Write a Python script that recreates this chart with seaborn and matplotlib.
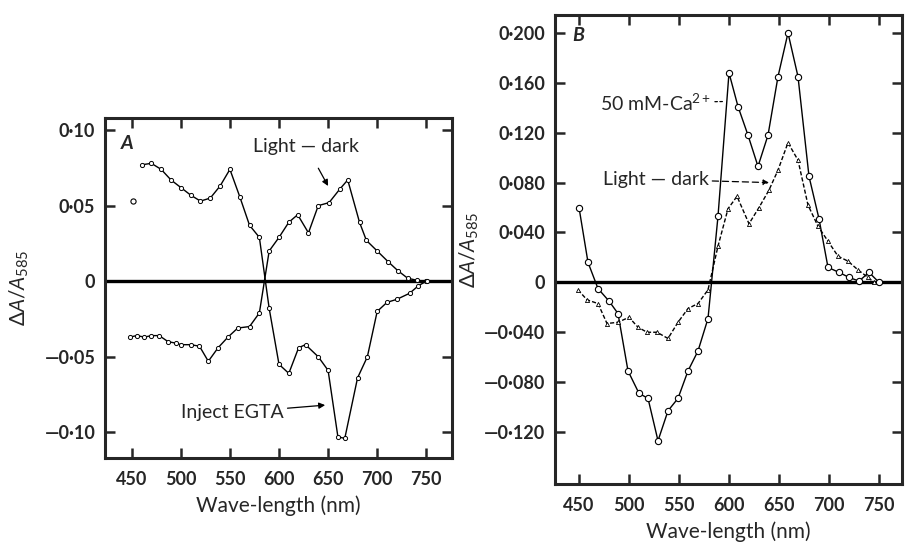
import matplotlib
matplotlib.use("Agg")
import matplotlib.pyplot as plt
import seaborn as sns

# Panel A: inject EGTA (starts high at left, dips to -0.10 near 665 nm)
a_egta_nm = [460, 470, 480, 490, 500, 510, 520, 530, 540, 550, 560, 570, 580,
             590, 600, 610, 620, 627, 640, 650, 660, 667, 680, 690, 700, 710,
             720, 733, 742, 750]
a_egta_val = [0.077, 0.078, 0.074, 0.067, 0.062, 0.057, 0.053, 0.055, 0.063,
              0.074, 0.056, 0.037, 0.029, -0.018, -0.055, -0.061, -0.044,
              -0.042, -0.050, -0.059, -0.103, -0.104, -0.064, -0.050, -0.020,
              -0.014, -0.012, -0.008, -0.003, 0.0]

# Panel A: light - dark
a_ld_nm = [448, 455, 463, 470, 478, 487, 495, 500, 510, 519, 528, 538, 548,
           558, 570, 580, 590, 600, 610, 619, 630, 640, 651, 662, 670, 682,
           689, 700, 711, 721, 731, 741, 751]
a_ld_val = [-0.037, -0.036, -0.037, -0.036, -0.036, -0.040, -0.041, -0.042,
            -0.042, -0.043, -0.053, -0.044, -0.037, -0.031, -0.030, -0.021,
            0.020, 0.029, 0.039, 0.044, 0.032, 0.050, 0.052, 0.061, 0.067,
            0.039, 0.027, 0.020, 0.013, 0.007, 0.002, 0.0005, 0.0]

# stray point printed in panel A
a_stray_nm = [451]
a_stray_val = [0.053]

# Panel B: 50 mM-Ca2+
b_ca_nm = [450, 459, 469, 480, 489, 499, 510, 519, 529, 539, 549, 559, 569,
           579, 589, 600, 609, 619, 629, 639, 649, 659, 669, 680, 690, 699,
           710, 720, 730, 740, 750]
b_ca_val = [0.060, 0.016, -0.005, -0.015, -0.025, -0.071, -0.089, -0.093,
            -0.127, -0.103, -0.093, -0.071, -0.055, -0.029, 0.053, 0.168,
            0.141, 0.118, 0.093, 0.118, 0.165, 0.200, 0.165, 0.085, 0.051,
            0.012, 0.008, 0.004, 0.001, 0.008, 0.0]

# Panel B: light - dark
b_ld_nm = [449, 458, 469, 478, 489, 500, 509, 518, 528, 539, 549, 559, 569,
           579, 589, 599, 608, 620, 630, 640, 649, 659, 669, 679, 689, 699,
           709, 719, 729, 739, 745]
b_ld_val = [-0.006, -0.014, -0.017, -0.033, -0.032, -0.028, -0.036, -0.040,
            -0.040, -0.045, -0.032, -0.021, -0.017, -0.006, 0.029, 0.059,
            0.069, 0.047, 0.060, 0.074, 0.090, 0.112, 0.098, 0.062, 0.045,
            0.033, 0.021, 0.017, 0.010, 0.004, 0.0]

x_ticks = [450, 500, 550, 600, 650, 700, 750]
a_yticks = [0.10, 0.05, 0.0, -0.05, -0.10]
a_ylabels = ["0·10", "0·05", "0", "—0·05", "—0·10"]
b_yticks = [0.200, 0.160, 0.120, 0.080, 0.040, 0.0, -0.040, -0.080, -0.120]
b_ylabels = ["0·200", "0·160", "0·120", "0·080", "0·040", "0",
             "—0·040", "—0·080", "—0·120"]

sns.set_style("ticks")
plt.rcParams["font.family"] = ["Lato", "DejaVu Sans"]
plt.rcParams["mathtext.fontset"] = "custom"
plt.rcParams["mathtext.rm"] = "Lato"
plt.rcParams["mathtext.it"] = "Lato:italic"
plt.rcParams["mathtext.bf"] = "Lato:bold"

fig = plt.figure(figsize=(9.1, 5.45), dpi=100)
axA = fig.add_axes([0.1154, 0.1596, 0.3813, 0.6239])
axB = fig.add_axes([0.6099, 0.1119, 0.3813, 0.8606])

line_kw = dict(color="black", lw=1.0, sort=False, estimator=None)

# panel A curves
sns.lineplot(x=a_egta_nm, y=a_egta_val, ax=axA, marker="o", markersize=3,
             markerfacecolor="white", markeredgecolor="black",
             markeredgewidth=0.7, **line_kw)
sns.lineplot(x=a_ld_nm, y=a_ld_val, ax=axA, marker="o", markersize=3,
             markerfacecolor="white", markeredgecolor="black",
             markeredgewidth=0.7, **line_kw)
sns.scatterplot(x=a_stray_nm, y=a_stray_val, ax=axA, s=14, marker="o",
                facecolor="white", edgecolor="black", linewidth=0.8)

# panel B curves
sns.lineplot(x=b_ca_nm, y=b_ca_val, ax=axB, marker="o", markersize=4.5,
             markerfacecolor="white", markeredgecolor="black",
             markeredgewidth=0.8, **line_kw)
sns.lineplot(x=b_ld_nm, y=b_ld_val, ax=axB, marker="^", markersize=3,
             markerfacecolor="white", markeredgecolor="black",
             markeredgewidth=0.6, linestyle=(0, (3, 1.5)), **line_kw)

for ax in (axA, axB):
    ax.axhline(0, color="black", lw=2.4, zorder=1)
    ax.set_xticks(x_ticks)
    ax.tick_params(direction="in", length=7, width=1.8, top=True, right=True,
                   labeltop=False, labelright=False, labelsize=13, pad=7)
    ax.tick_params(axis="x", pad=9)
    for s in ax.spines.values():
        s.set_linewidth(2.2)
        s.set_visible(True)
    ax.set_xlabel("Wave-length (nm)", fontsize=15, labelpad=6)
    for lab in ax.get_xticklabels() + ax.get_yticklabels():
        lab.set_fontweight("bold")

axA.set_xlim(422.8, 776.2)
axA.set_ylim(-0.117, 0.108)
axA.set_yticks(a_yticks)
axA.set_yticklabels(a_ylabels, fontweight="bold")
axA.set_ylabel(r"$\Delta A/A_{585}$", fontsize=15, labelpad=10)

axB.set_xlim(426, 773)
axB.set_ylim(-0.1617, 0.2144)
axB.set_yticks(b_yticks)
axB.set_yticklabels(b_ylabels, fontweight="bold")
axB.set_ylabel(r"$\Delta A/A_{585}$", fontsize=15, labelpad=2)

# annotations
axA.text(445, 0.091, "A", fontsize=14, style="italic", fontweight="bold",
         ha="center", va="center")
axA.annotate("Light — dark", xy=(650, 0.063), xytext=(628, 0.089),
             fontsize=14, ha="center", va="center",
             arrowprops=dict(arrowstyle="-|>", color="black", lw=0.9,
                             mutation_scale=9, shrinkA=8, shrinkB=0))
axA.annotate("Inject EGTA", xy=(647, -0.082), xytext=(553, -0.087),
             fontsize=14, ha="center", va="center",
             arrowprops=dict(arrowstyle="-|>", color="black", lw=0.9,
                             mutation_scale=9, shrinkA=52, shrinkB=0))

axB.text(449, 0.198, "B", fontsize=14, style="italic", fontweight="bold",
         ha="center", va="center")
axB.annotate(r"50 mM-Ca$^{2+}$", xy=(594, 0.145), xytext=(527, 0.144),
             fontsize=14, ha="center", va="center",
             arrowprops=dict(arrowstyle="-", color="black", lw=0.9,
                             linestyle=(0, (2, 2)), shrinkA=54, shrinkB=0))
axB.annotate("Light — dark", xy=(640, 0.080), xytext=(527, 0.0826),
             fontsize=14, ha="center", va="center",
             arrowprops=dict(arrowstyle="-|>", color="black", lw=0.9,
                             linestyle=(0, (5, 3)), mutation_scale=8,
                             shrinkA=58, shrinkB=0))

fig.savefig("out.png", dpi=100)
